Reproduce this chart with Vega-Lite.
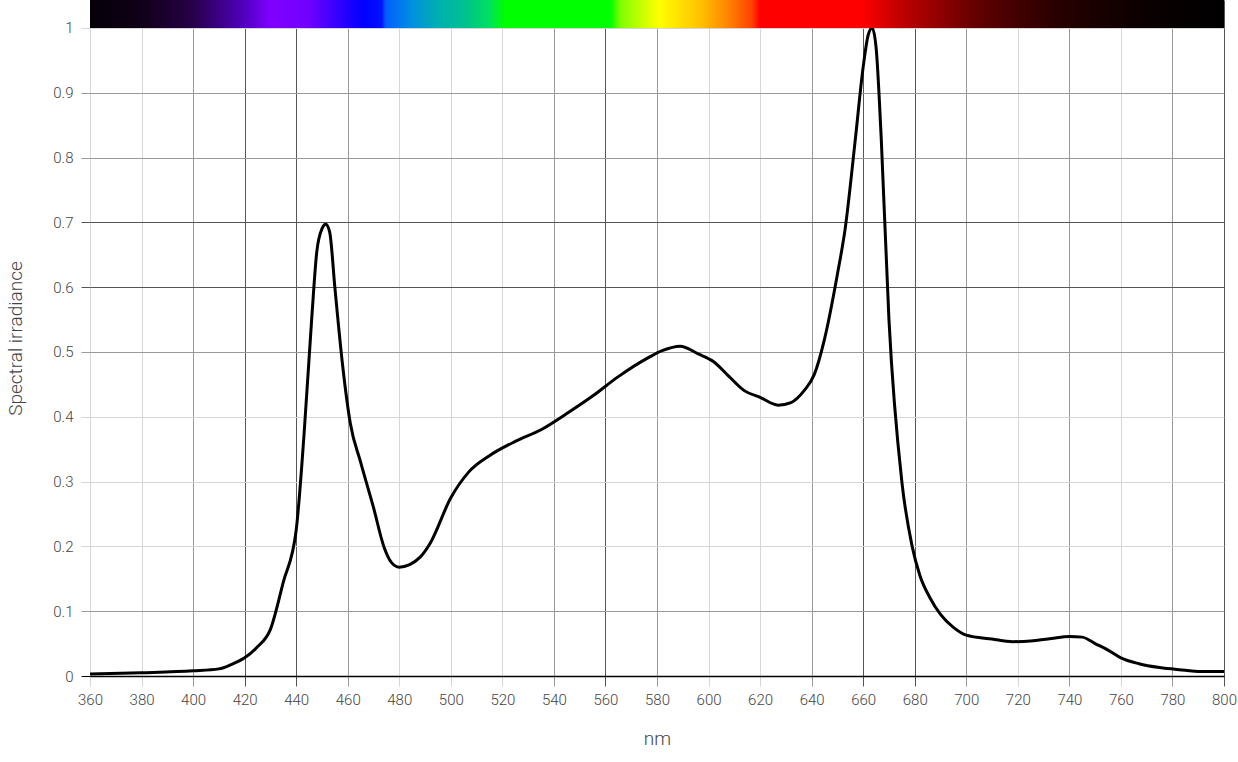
{
  "$schema": "https://vega.github.io/schema/vega-lite/v6.json",
  "width": 1134,
  "height": 676,
  "autosize": {"type": "none"},
  "padding": {"left": 90, "top": 0, "right": 14, "bottom": 86},
  "background": "white",
  "config": {
    "view": {"stroke": null},
    "font": "Roboto",
    "axis": {"labelFont": "Roboto", "labelFontWeight": 300, "titleFont": "Roboto", "titleFontWeight": 300, "labelColor": "#444", "titleColor": "#444", "labelFontSize": 15, "titleFontSize": 19, "gridWidth": 1, "tickWidth": 1, "labelFlush": false, "labelOverlap": false}
  },
  "datasets": {
    "spectrum": [
      {"nm": 360, "v": 0.003}, {"nm": 380, "v": 0.005}, {"nm": 400, "v": 0.008}, {"nm": 410, "v": 0.011},
      {"nm": 415, "v": 0.018}, {"nm": 420, "v": 0.028}, {"nm": 425, "v": 0.045}, {"nm": 430, "v": 0.072},
      {"nm": 435, "v": 0.145}, {"nm": 440, "v": 0.225}, {"nm": 443, "v": 0.37}, {"nm": 446, "v": 0.55},
      {"nm": 448, "v": 0.655}, {"nm": 450, "v": 0.69}, {"nm": 451.5, "v": 0.697}, {"nm": 453, "v": 0.685},
      {"nm": 455, "v": 0.6}, {"nm": 458, "v": 0.48}, {"nm": 461, "v": 0.39}, {"nm": 465, "v": 0.33},
      {"nm": 470, "v": 0.26}, {"nm": 474, "v": 0.2}, {"nm": 477, "v": 0.175}, {"nm": 480, "v": 0.168},
      {"nm": 484, "v": 0.172}, {"nm": 488, "v": 0.183}, {"nm": 492, "v": 0.205}, {"nm": 500, "v": 0.275},
      {"nm": 507, "v": 0.315}, {"nm": 515, "v": 0.34}, {"nm": 525, "v": 0.362}, {"nm": 535, "v": 0.38},
      {"nm": 545, "v": 0.405}, {"nm": 555, "v": 0.432}, {"nm": 565, "v": 0.462}, {"nm": 577, "v": 0.492},
      {"nm": 582, "v": 0.502}, {"nm": 589, "v": 0.509}, {"nm": 596, "v": 0.497}, {"nm": 602, "v": 0.485},
      {"nm": 608, "v": 0.462}, {"nm": 614, "v": 0.44}, {"nm": 620, "v": 0.43}, {"nm": 627, "v": 0.418},
      {"nm": 632, "v": 0.422}, {"nm": 637, "v": 0.44}, {"nm": 641, "v": 0.465}, {"nm": 645, "v": 0.52},
      {"nm": 650, "v": 0.62}, {"nm": 653, "v": 0.69}, {"nm": 657, "v": 0.83}, {"nm": 660, "v": 0.94},
      {"nm": 662, "v": 0.99}, {"nm": 663.5, "v": 1.0}, {"nm": 665, "v": 0.97}, {"nm": 667, "v": 0.83},
      {"nm": 670, "v": 0.55}, {"nm": 675, "v": 0.3}, {"nm": 679, "v": 0.2}, {"nm": 682, "v": 0.155},
      {"nm": 686, "v": 0.12}, {"nm": 690, "v": 0.095}, {"nm": 695, "v": 0.075}, {"nm": 700, "v": 0.063},
      {"nm": 710, "v": 0.057}, {"nm": 718, "v": 0.053}, {"nm": 725, "v": 0.054}, {"nm": 733, "v": 0.058},
      {"nm": 740, "v": 0.061}, {"nm": 745, "v": 0.06}, {"nm": 750, "v": 0.05}, {"nm": 755, "v": 0.04},
      {"nm": 760, "v": 0.028}, {"nm": 767, "v": 0.019}, {"nm": 775, "v": 0.013}, {"nm": 785, "v": 0.009},
      {"nm": 790, "v": 0.007}, {"nm": 800, "v": 0.007}
    ],
    "band": [{"from": 360, "to": 800}]
  },
  "layer": [
    {
      "data": {"name": "spectrum"},
      "mark": {"type": "line", "color": "black", "strokeWidth": 3, "interpolate": "monotone"},
      "encoding": {
        "x": {
          "field": "nm", "type": "quantitative",
          "scale": {"domain": [360, 800], "nice": false, "zero": false},
          "axis": {
            "title": "nm", "values": [360,380,400,420,440,460,480,500,520,540,560,580,600,620,640,660,680,700,720,740,760,780,800],
            "domainColor": "black", "domainWidth": 1.3, "tickSize": 10, "labelPadding": 6, "titlePadding": 22,
            "gridColor": {"condition": [
              {"test": "indexof([420,440,560,660,680,800], datum.value) >= 0", "value": "#555"},
              {"test": "indexof([400,460,540,580,640,700,740,780], datum.value) >= 0", "value": "#999"}
            ], "value": "#d6d6d6"},
            "tickColor": {"condition": [
              {"test": "indexof([420,440,560,660,680,800], datum.value) >= 0", "value": "#555"},
              {"test": "indexof([400,460,540,580,640,700,740,780], datum.value) >= 0", "value": "#999"}
            ], "value": "#d6d6d6"}
          }
        },
        "y": {
          "field": "v", "type": "quantitative",
          "scale": {"domain": [0, 1.0432], "nice": false},
          "axis": {
            "title": "Spectral irradiance", "values": [0,0.1,0.2,0.3,0.4,0.5,0.6,0.7,0.8,0.9,1], "format": "~g",
            "domain": false, "tickSize": 9, "labelPadding": 8, "titlePadding": 27,
            "gridColor": {"condition": [
              {"test": "datum.value == 0", "value": "#000"},
              {"test": "datum.value == 0.6 || datum.value == 0.7", "value": "#555"},
              {"test": "datum.value == 0.1 || datum.value == 0.5 || datum.value == 0.8 || datum.value == 0.9", "value": "#999"}
            ], "value": "#d6d6d6"},
            "tickColor": {"condition": [
              {"test": "datum.value == 0", "value": "#000"},
              {"test": "datum.value == 0.6 || datum.value == 0.7", "value": "#555"},
              {"test": "datum.value == 0.1 || datum.value == 0.5 || datum.value == 0.8 || datum.value == 0.9", "value": "#999"}
            ], "value": "#d6d6d6"}
          }
        }
      }
    },
    {
      "data": {"name": "band"},
      "mark": {
        "type": "rect",
        "color": {
          "gradient": "linear", "x1": 0, "x2": 1, "y1": 0, "y2": 0,
          "stops": [
            {"offset": 0, "color": "#050008"},
            {"offset": 0.045, "color": "#100018"},
            {"offset": 0.091, "color": "#280048"},
            {"offset": 0.136, "color": "#5000c0"},
            {"offset": 0.159, "color": "#8000ff"},
            {"offset": 0.193, "color": "#7000ff"},
            {"offset": 0.227, "color": "#2000ff"},
            {"offset": 0.241, "color": "#0000ff"},
            {"offset": 0.257, "color": "#0010ff"},
            {"offset": 0.261, "color": "#0060ff"},
            {"offset": 0.284, "color": "#0090e0"},
            {"offset": 0.307, "color": "#00b0b0"},
            {"offset": 0.330, "color": "#00c090"},
            {"offset": 0.352, "color": "#00e060"},
            {"offset": 0.366, "color": "#00ff00"},
            {"offset": 0.459, "color": "#00ff00"},
            {"offset": 0.468, "color": "#80ff00"},
            {"offset": 0.489, "color": "#d0ff00"},
            {"offset": 0.502, "color": "#ffff00"},
            {"offset": 0.539, "color": "#ffc000"},
            {"offset": 0.564, "color": "#ff8000"},
            {"offset": 0.584, "color": "#ff4000"},
            {"offset": 0.589, "color": "#ff1000"},
            {"offset": 0.591, "color": "#ff0000"},
            {"offset": 0.680, "color": "#ff0000"},
            {"offset": 0.714, "color": "#c00000"},
            {"offset": 0.75, "color": "#900000"},
            {"offset": 0.784, "color": "#600000"},
            {"offset": 0.820, "color": "#400000"},
            {"offset": 0.855, "color": "#280000"},
            {"offset": 0.891, "color": "#180000"},
            {"offset": 0.934, "color": "#0a0000"},
            {"offset": 1, "color": "#000000"}
          ]
        }
      },
      "encoding": {
        "x": {"field": "from", "type": "quantitative"},
        "x2": {"field": "to"},
        "y": {"datum": 1},
        "y2": {"datum": 1.0432}
      }
    }
  ]
}
